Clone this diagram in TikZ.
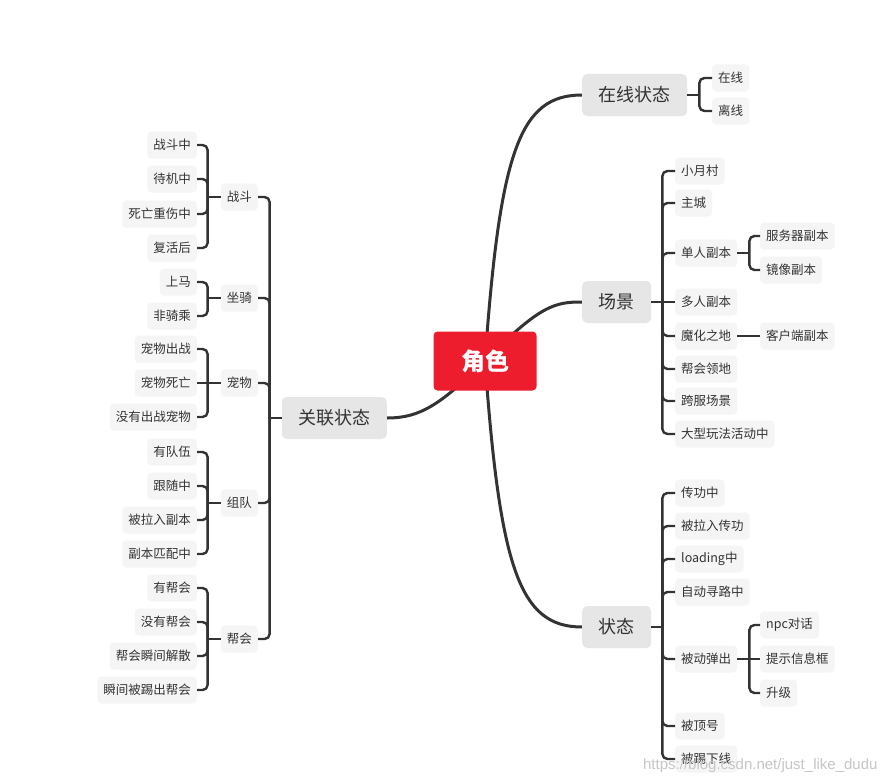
\documentclass[tikz,border=0pt]{standalone}
\usepackage{fontspec}
\setmainfont{Noto Sans CJK SC}
\newfontfamily\wmfont{Liberation Sans}
\usepackage{xcolor}
\usepackage{tikz}
\usetikzlibrary{backgrounds}

\definecolor{ink}{HTML}{333333}
\definecolor{rootred}{HTML}{EE1D2D}
\definecolor{topicfill}{HTML}{E6E6E6}
\definecolor{leaffill}{HTML}{F5F5F5}

\begin{document}
\begin{tikzpicture}[
  x=1pt, y=-1pt,
  rootbox/.style={rectangle, rounded corners=4pt, fill=rootred, text=white, font=\fontsize{24}{28}\selectfont\bfseries, minimum width=103pt, minimum height=59pt},
  topic/.style={rectangle, rounded corners=5pt, fill=topicfill, text=ink, font=\fontsize{18}{22}\selectfont, inner xsep=16.5pt, minimum height=42pt},
  leaf/.style={rectangle, rounded corners=4pt, fill=leaffill, text=ink, font=\fontsize{12.5}{15}\selectfont, inner xsep=6pt, minimum height=27pt},
  branch/.style={draw=ink, line width=3pt},
  link/.style={draw=ink, line width=2.4pt, rounded corners=5pt},
]
  \path[use as bounding box] (0,0) rectangle (889,784);

  % central topic and main branches
  \node[rootbox] (root) at (485,361) {角色};
  \node[topic, anchor=west] (online) at (582,95) {在线状态};
  \node[topic, anchor=west] (scene) at (582,302) {场景};
  \node[topic, anchor=west] (stat) at (582,627) {状态};
  \node[topic, anchor=east] (rel) at (387,418) {关联状态};

  \begin{scope}[on background layer]
    \fill[white] (0,0) rectangle (889,784);
    \draw[branch] (root.center) .. controls +(15,-211) and +(-62,0) .. (online.west);
    \draw[branch] (root.center) .. controls +(55,-56) and +(-27,0) .. (scene.west);
    \draw[branch] (root.center) .. controls +(15,209) and +(-62,0) .. (stat.west);
    \draw[branch] (root.center) .. controls +(-45,44) and +(33,0) .. (rel.east);
  \end{scope}

  % 在线状态
  \node[leaf, anchor=west] (on1) at (712,78) {在线};
  \node[leaf, anchor=west] (on2) at (712,111) {离线};
  \coordinate (onj) at ([xshift=12]online.east);
  \draw[link] (online) -- (onj);
  \draw[link] (onj) |- (on1);
  \draw[link] (onj) |- (on2);

  % 场景
  \node[leaf, anchor=west] (sc1) at (675,171) {小月村};
  \node[leaf, anchor=west] (sc2) at (675,203) {主城};
  \node[leaf, anchor=west] (sc3) at (675,253) {单人副本};
  \node[leaf, anchor=west] (sc4) at (675,302) {多人副本};
  \node[leaf, anchor=west] (sc5) at (675,336) {魔化之地};
  \node[leaf, anchor=west] (sc6) at (675,369) {帮会领地};
  \node[leaf, anchor=west] (sc7) at (675,401) {跨服场景};
  \node[leaf, anchor=west] (sc8) at (675,434) {大型玩法活动中};
  \coordinate (scj) at ([xshift=11]scene.east);
  \draw[link] (scene) -- (scj);
  \draw[link] (scj) |- (sc1);
  \draw[link] (scj) |- (sc2);
  \draw[link] (scj) |- (sc3);
  \draw[link] (scj) -- (sc4);
  \draw[link] (scj) |- (sc5);
  \draw[link] (scj) |- (sc6);
  \draw[link] (scj) |- (sc7);
  \draw[link] (scj) |- (sc8);

  \node[leaf, anchor=west] (dup1) at (760,236) {服务器副本};
  \node[leaf, anchor=west] (dup2) at (760,270) {镜像副本};
  \coordinate (dupj) at ([xshift=12]sc3.east);
  \draw[link] (sc3) -- (dupj);
  \draw[link] (dupj) |- (dup1);
  \draw[link] (dupj) |- (dup2);

  \node[leaf, anchor=west] (cli) at (760,336) {客户端副本};
  \draw[link] (sc5) -- (cli);

  % 状态
  \node[leaf, anchor=west] (st1) at (675,493) {传功中};
  \node[leaf, anchor=west] (st2) at (675,526) {被拉入传功};
  \node[leaf, anchor=west] (st3) at (675,559) {loading中};
  \node[leaf, anchor=west] (st4) at (675,592) {自动寻路中};
  \node[leaf, anchor=west] (st5) at (675,659) {被动弹出};
  \node[leaf, anchor=west] (st6) at (675,726) {被顶号};
  \node[leaf, anchor=west] (st7) at (675,759) {被踢下线};
  \coordinate (stj) at ([xshift=11]stat.east);
  \draw[link] (stat) -- (stj);
  \draw[link] (stj) |- (st1);
  \draw[link] (stj) |- (st2);
  \draw[link] (stj) |- (st3);
  \draw[link] (stj) |- (st4);
  \draw[link] (stj) |- (st5);
  \draw[link] (stj) |- (st6);
  \draw[link] (stj) |- (st7);

  \node[leaf, anchor=west] (pop1) at (760,625) {npc对话};
  \node[leaf, anchor=west] (pop2) at (760,659) {提示信息框};
  \node[leaf, anchor=west] (pop3) at (760,693) {升级};
  \coordinate (popj) at ([xshift=12]st5.east);
  \draw[link] (st5) -- (popj);
  \draw[link] (popj) |- (pop1);
  \draw[link] (popj) -- (pop2);
  \draw[link] (popj) |- (pop3);

  % 关联状态
  \node[leaf, anchor=east] (fight) at (258,197) {战斗};
  \node[leaf, anchor=east] (mount) at (258,298) {坐骑};
  \node[leaf, anchor=east] (pet) at (258,383) {宠物};
  \node[leaf, anchor=east] (team) at (258,503) {组队};
  \node[leaf, anchor=east] (guild) at (258,639) {帮会};
  \coordinate (relj) at ([xshift=-12]rel.west);
  \draw[link] (rel) -- (relj);
  \draw[link] (relj) |- (fight);
  \draw[link] (relj) |- (mount);
  \draw[link] (relj) |- (pet);
  \draw[link] (relj) |- (team);
  \draw[link] (relj) |- (guild);

  \node[leaf, anchor=east] (f1) at (197,145) {战斗中};
  \node[leaf, anchor=east] (f2) at (197,179) {待机中};
  \node[leaf, anchor=east] (f3) at (197,214) {死亡重伤中};
  \node[leaf, anchor=east] (f4) at (197,248) {复活后};
  \coordinate (fightj) at ([xshift=-13]fight.west);
  \draw[link] (fight) -- (fightj);
  \draw[link] (fightj) |- (f1);
  \draw[link] (fightj) |- (f2);
  \draw[link] (fightj) |- (f3);
  \draw[link] (fightj) |- (f4);

  \node[leaf, anchor=east] (m1) at (197,282) {上马};
  \node[leaf, anchor=east] (m2) at (197,316) {非骑乘};
  \coordinate (mountj) at ([xshift=-13]mount.west);
  \draw[link] (mount) -- (mountj);
  \draw[link] (mountj) |- (m1);
  \draw[link] (mountj) |- (m2);

  \node[leaf, anchor=east] (p1) at (197,349) {宠物出战};
  \node[leaf, anchor=east] (p2) at (197,383) {宠物死亡};
  \node[leaf, anchor=east] (p3) at (197,417) {没有出战宠物};
  \coordinate (petj) at ([xshift=-13]pet.west);
  \draw[link] (pet) -- (petj);
  \draw[link] (petj) |- (p1);
  \draw[link] (petj) -- (p2);
  \draw[link] (petj) |- (p3);

  \node[leaf, anchor=east] (t1) at (197,452) {有队伍};
  \node[leaf, anchor=east] (t2) at (197,486) {跟随中};
  \node[leaf, anchor=east] (t3) at (197,520) {被拉入副本};
  \node[leaf, anchor=east] (t4) at (197,554) {副本匹配中};
  \coordinate (teamj) at ([xshift=-13]team.west);
  \draw[link] (team) -- (teamj);
  \draw[link] (teamj) |- (t1);
  \draw[link] (teamj) |- (t2);
  \draw[link] (teamj) |- (t3);
  \draw[link] (teamj) |- (t4);

  \node[leaf, anchor=east] (g1) at (197,588) {有帮会};
  \node[leaf, anchor=east] (g2) at (197,622) {没有帮会};
  \node[leaf, anchor=east] (g3) at (197,656) {帮会瞬间解散};
  \node[leaf, anchor=east] (g4) at (197,690) {瞬间被踢出帮会};
  \coordinate (guildj) at ([xshift=-13]guild.west);
  \draw[link] (guild) -- (guildj);
  \draw[link] (guildj) |- (g1);
  \draw[link] (guildj) |- (g2);
  \draw[link] (guildj) |- (g3);
  \draw[link] (guildj) |- (g4);

  \node[font=\wmfont\fontsize{15}{18}\selectfont, text=gray!45, anchor=east] (wm) at (881,766) {https://blog.csdn.net/just\_like\_dudu};
\end{tikzpicture}
\end{document}
